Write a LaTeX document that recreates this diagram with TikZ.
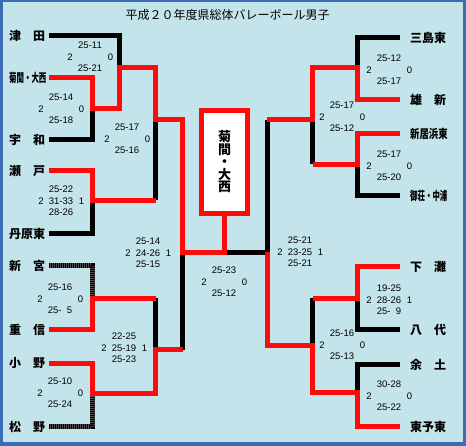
\documentclass[tikz,border=0pt]{standalone}
\usepackage{fontspec}
\usepackage{graphicx}
\setmainfont{Liberation Sans}
\newfontfamily\jpfont{Noto Sans CJK JP}
\definecolor{bracketbg}{HTML}{C3E4EA}
\definecolor{bracketframe}{HTML}{3C6CB4}
\definecolor{bracketred}{HTML}{FF0A0A}
\newcommand{\squeeze}[2]{\scalebox{#1}[1]{#2}}
% one score block: name, centre x, centre y, top set, middle set, bottom set, sets won, sets lost
\newcommand{\matchscore}[8]{%
  \node[score] (#1-top) at (#2,#3-11.5) {#4};
  \node[score] (#1-mid) at (#2,#3) {#5};
  \node[score] (#1-bot) at (#2,#3+11.5) {#6};
  \node[score] (#1-won) at (#2-20,#3) {#7};
  \node[score] (#1-lost) at (#2+20.5,#3) {#8};
}

\begin{document}
\begin{tikzpicture}[
  x=1pt,
  y=-1pt,
  every node/.style={inner sep=0pt},
  won/.style={draw=bracketred, line width=5pt, line join=miter},
  lost/.style={draw=black, line width=5pt, line join=miter},
  forfeit/.style={draw=black!70, line width=5pt, line join=miter,
    postaction={draw=black, line width=5pt, dash pattern=on 1pt off 1pt}},
  team/.style={font=\jpfont\bfseries\fontsize{12}{12}\selectfont, anchor=west},
  score/.style={font=\fontsize{9.5}{10}\selectfont}
]
  % ---- background and frame --------------------------------------------
  \fill[bracketframe] (0,0) rectangle (466,446);
  \fill[bracketbg] (3,2) rectangle (463,442);

  % ---- title -----------------------------------------------------------
  \node[font=\jpfont\fontsize{12}{12}\selectfont] (title) at (227.5,15)
    {平成２０年度県総体バレーボール男子};

  % ---- team names, left ------------------------------------------------
  \node[team] (tsuda)    at (9,35.5)  {津　田};
  \node[team] (kikuma)   at (9,77.5)  {\squeeze{0.62}{菊間・大西}};
  \node[team] (uwa)      at (9,140)   {宇　和};
  \node[team] (seto)     at (9,171)   {瀬　戸};
  \node[team] (tanbara)  at (9,234)   {丹原東};
  \node[team] (shingu)   at (9,266)   {新　宮};
  \node[team] (shigenobu) at (9,329.5) {重　信};
  \node[team] (ono)      at (9,363.5) {小　野};
  \node[team] (matsuno)  at (9,426.5) {松　野};

  % ---- team names, right -----------------------------------------------
  \node[team] (mishima)  at (410,37.5)  {三島東};
  \node[team] (yushin)   at (410,99.5)  {雄　新};
  \node[team] (niihama)  at (410,134)   {\squeeze{0.78}{新居浜東}};
  \node[team] (misho)    at (410,196)   {\squeeze{0.62}{御荘・中浦}};
  \node[team] (shimonada) at (410,266.5) {下　灘};
  \node[team] (yashiro)  at (410,329.5) {八　代};
  \node[team] (yodo)     at (410,364.5) {余　土};
  \node[team] (toyoto)   at (410,426.5) {東予東};

  % ---- where the lines leave the names ---------------------------------
  \coordinate (tsuda-l)     at (49,35.5);
  \coordinate (kikuma-l)    at (49,77.5);
  \coordinate (uwa-l)       at (49,140);
  \coordinate (seto-l)      at (49,171);
  \coordinate (tanbara-l)   at (49,234);
  \coordinate (shingu-l)    at (49,266);
  \coordinate (shigenobu-l) at (49,329.5);
  \coordinate (ono-l)       at (49,363.5);
  \coordinate (matsuno-l)   at (49,426.5);
  \coordinate (mishima-l)   at (400,37.5);
  \coordinate (yushin-l)    at (400,99.5);
  \coordinate (niihama-l)   at (400,134);
  \coordinate (misho-l)     at (400,196);
  \coordinate (shimonada-l) at (400,266.5);
  \coordinate (yashiro-l)   at (400,329.5);
  \coordinate (yodo-l)      at (400,364.5);
  \coordinate (toyoto-l)    at (400,426.5);

  % ---- joints of the bracket -------------------------------------------
  \coordinate (L-a) at (92,108.5);
  \coordinate (L-b) at (119,67.5);
  \coordinate (L-c) at (92,200.5);
  \coordinate (L-d) at (155.5,120);
  \coordinate (L-e) at (92,298.5);
  \coordinate (L-f) at (92,393.5);
  \coordinate (L-g) at (155.5,350);
  \coordinate (L-h) at (182.5,252.5);
  \coordinate (final) at (225,252.5);
  \coordinate (R-a) at (357.5,67.5);
  \coordinate (R-b) at (357.5,164.5);
  \coordinate (R-c) at (312.5,120);
  \coordinate (R-d) at (357.5,298.5);
  \coordinate (R-e) at (357.5,392.5);
  \coordinate (R-f) at (312.5,345.5);
  \coordinate (R-g) at (267,252.5);

  % ---- the winner --------------------------------------------------------
  \node[draw=bracketred, line width=5pt, fill=white, minimum width=46pt,
    minimum height=103pt, align=center,
    font=\jpfont\bfseries\fontsize{13}{12.5}\selectfont]
    (champion) at (224.5,162) {菊\\間\\・\\大\\西};

  % ---- lost matches ------------------------------------------------------
  \draw[lost] (tsuda-l) -| (L-b);
  \draw[lost] (uwa-l) -| (L-a);
  \draw[lost] (tanbara-l) -| (L-c);
  \draw[lost] (L-c -| L-d) -- (L-d);
  \draw[forfeit] (shingu-l) -| (L-e);
  \draw[lost] (L-e -| L-g) -- (L-g);
  \draw[forfeit] (matsuno-l) -| (L-f);
  \draw[lost] (L-g -| L-h) -- (L-h);
  \draw[lost] (mishima-l) -| (R-a);
  \draw[lost] (misho-l) -| (R-b);
  \draw[lost] (R-b -| R-c) -- (R-c);
  \draw[lost] (R-c -| R-g) -- (R-g);
  \draw[lost] (yashiro-l) -| (R-d);
  \draw[lost] (R-d -| R-f) -- (R-f);
  \draw[lost] (yodo-l) -| (R-e);
  \draw[lost] (R-g) -- (final);

  % ---- won matches -------------------------------------------------------
  \draw[won] (kikuma-l) -| (L-a) -| (L-b) -| (L-d) -| (L-h) -| (champion.south);
  \draw[won] (seto-l) -| (L-c) -- (L-c -| L-d);
  \draw[won] (shigenobu-l) -| (L-e) -- (L-e -| L-g);
  \draw[won] (ono-l) -| (L-f) -| (L-g) -- (L-g -| L-h);
  \draw[won] (yushin-l) -| (R-a) -| (R-c) -- (R-c -| R-g);
  \draw[won] (niihama-l) -| (R-b) -- (R-b -| R-c);
  \draw[won] (shimonada-l) -| (R-d) -- (R-d -| R-f);
  \draw[won] (toyoto-l) -| (R-e) -| (R-f) -| (R-g);

  % ---- scores, left ------------------------------------------------------
  \matchscore{m1}{90}{57}{25-11}{}{25-21}{2}{0}
  \matchscore{m2}{61}{109}{25-14}{}{25-18}{2}{0}
  \matchscore{m3}{127}{139}{25-17}{}{25-16}{2}{0}
  \matchscore{m4}{61}{201}{25-22}{31-33}{28-26}{2}{1}
  \matchscore{m5}{148}{253}{25-14}{24-26}{25-15}{2}{1}
  \matchscore{m6}{60}{299}{25-16}{}{25-\hphantom{1}5}{2}{0}
  \matchscore{m7}{124}{348}{22-25}{25-19}{25-23}{2}{1}
  \matchscore{m8}{60}{393}{25-10}{}{25-24}{2}{0}

  % ---- score of the final ------------------------------------------------
  \matchscore{fin}{224}{282}{25-23}{}{25-12}{2}{0}

  % ---- scores, right -----------------------------------------------------
  \matchscore{m9}{389}{70}{25-12}{}{25-17}{2}{0}
  \matchscore{m10}{342}{117}{25-17}{}{25-12}{2}{0}
  \matchscore{m11}{389}{166}{25-17}{}{25-20}{2}{0}
  \matchscore{m12}{300}{252}{25-21}{23-25}{25-21}{2}{1}
  \matchscore{m13}{389}{300}{19-25}{28-26}{25-\hphantom{1}9}{2}{1}
  \matchscore{m14}{342}{345}{25-16}{}{25-13}{2}{0}
  \matchscore{m15}{389}{396}{30-28}{}{25-22}{2}{0}
\end{tikzpicture}
\end{document}
